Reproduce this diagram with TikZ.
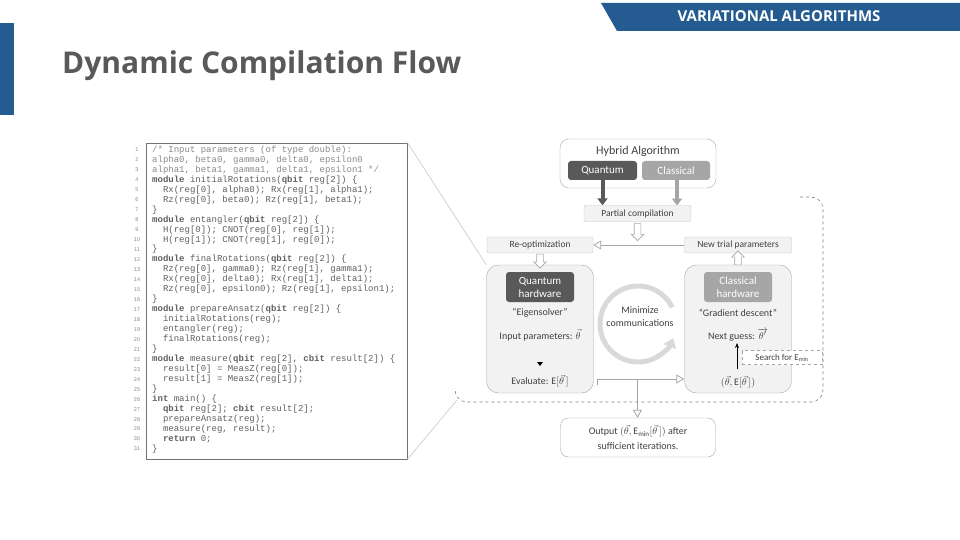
\documentclass[tikz,border=0pt]{standalone}
\usepackage{fontspec}
\setmainfont{Carlito}
\setmonofont{Liberation Mono}
\newfontfamily\osans{Open Sans}
\newfontfamily\lsans{Liberation Sans}
\usetikzlibrary{arrows.meta,shapes.arrows}
\definecolor{hdrblue}{HTML}{245C91}
\definecolor{titlegray}{HTML}{595959}
\definecolor{darkbox}{HTML}{595959}
\definecolor{lightbox}{HTML}{A6A6A6}
\definecolor{panelfill}{HTML}{F2F2F2}
\definecolor{panelline}{HTML}{A6A6A6}
\definecolor{smallline}{HTML}{C8C8C8}
\definecolor{txtgray}{HTML}{404040}
\definecolor{codegray}{HTML}{606060}
\definecolor{commentgray}{HTML}{8A8A8A}
\definecolor{ringgray}{HTML}{D9D9D9}
\newcommand\codeln[3]{%
  \node[lnum] (n#1) at (137,{-150-(#1-1)*9.967}) {#1};
  \node[codetxt] (c#1) at ({152+#2*5.4},{-150-(#1-1)*9.967}) {#3};}
\newcommand\kw[1]{\textbf{#1}}
\begin{document}
\begin{tikzpicture}[x=1pt,y=1pt,
  lnum/.style={font=\lsans\fontsize{5.5}{6}\selectfont, text=commentgray, inner sep=0pt},
  codetxt/.style={anchor=west, font=\ttfamily\fontsize{9}{9}\selectfont, text=codegray, inner sep=0pt},
  smallbox/.style={draw=smallline, fill=panelfill, rounded corners=2pt, minimum height=16pt, inner sep=1pt, font=\fontsize{9.5}{10}\selectfont, text=txtgray},
  bigpanel/.style={draw=panelline, fill=panelfill, rounded corners=12pt, minimum width=107pt, minimum height=128pt, inner sep=0pt},
  tagbox/.style={rounded corners=3pt, text=white, inner sep=0pt, align=center},
  paneltxt/.style={font=\fontsize{10}{12}\selectfont, text=txtgray, inner sep=0pt},
  blockarrow/.style={single arrow, draw=panelline, fill=white, line width=0.6pt, inner sep=3pt, single arrow head extend=3pt, minimum width=12pt},
  openarrow/.style={draw=lightbox, line width=0.8pt, -{Triangle[open, width=9pt, length=8pt]}}
]
\useasboundingbox (0,0) rectangle (960,-540);
\fill[white] (0,0) rectangle (960,-540);

% header
\fill[hdrblue] (601,-3) -- (960,-3) -- (960,-31) -- (617,-31) -- cycle;
\node[font=\osans\bfseries\fontsize{15}{16}\selectfont, text=white, inner sep=0pt] (hdr) at (779,-16) {VARIATIONAL ALGORITHMS};
\fill[hdrblue] (0,-23) rectangle (14,-115);
\node[anchor=west, font=\osans\bfseries\fontsize{30}{32}\selectfont, text=titlegray, inner sep=0pt] (title) at (62,-66) {Dynamic Compilation Flow};

% code box
\node[draw=black!55, line width=0.8pt, minimum width=261pt, minimum height=316pt, inner sep=0pt] (codebox) at (276.5,-301) {};
\codeln{1}{0}{\textcolor{commentgray}{/* Input parameters (of type double):}}
\codeln{2}{0}{\textcolor{commentgray}{alpha0, beta0, gamma0, delta0, epsilon0}}
\codeln{3}{0}{\textcolor{commentgray}{alpha1, beta1, gamma1, delta1, epsilon1 */}}
\codeln{4}{0}{\kw{module} initialRotations(\kw{qbit} reg[2]) \{}
\codeln{5}{2}{Rx(reg[0], alpha0); Rx(reg[1], alpha1);}
\codeln{6}{2}{Rz(reg[0], beta0); Rz(reg[1], beta1);}
\codeln{7}{0}{\}}
\codeln{8}{0}{\kw{module} entangler(\kw{qbit} reg[2]) \{}
\codeln{9}{2}{H(reg[0]); CNOT(reg[0], reg[1]);}
\codeln{10}{2}{H(reg[1]); CNOT(reg[1], reg[0]);}
\codeln{11}{0}{\}}
\codeln{12}{0}{\kw{module} finalRotations(\kw{qbit} reg[2]) \{}
\codeln{13}{2}{Rz(reg[0], gamma0); Rz(reg[1], gamma1);}
\codeln{14}{2}{Rx(reg[0], delta0); Rx(reg[1], delta1);}
\codeln{15}{2}{Rz(reg[0], epsilon0); Rz(reg[1], epsilon1);}
\codeln{16}{0}{\}}
\codeln{17}{0}{\kw{module} prepareAnsatz(\kw{qbit} reg[2]) \{}
\codeln{18}{2}{initialRotations(reg);}
\codeln{19}{2}{entangler(reg);}
\codeln{20}{2}{finalRotations(reg);}
\codeln{21}{0}{\}}
\codeln{22}{0}{\kw{module} measure(\kw{qbit} reg[2], \kw{cbit} result[2]) \{}
\codeln{23}{2}{result[0] = MeasZ(reg[0]);}
\codeln{24}{2}{result[1] = MeasZ(reg[1]);}
\codeln{25}{0}{\}}
\codeln{26}{0}{\kw{int} main() \{}
\codeln{27}{2}{\kw{qbit} reg[2]; \kw{cbit} result[2];}
\codeln{28}{2}{prepareAnsatz(reg);}
\codeln{29}{2}{measure(reg, result);}
\codeln{30}{2}{\kw{return} 0;}
\codeln{31}{0}{\}}

% hybrid algorithm box
\node[draw=panelline, fill=white, rounded corners=9pt, minimum width=156pt, minimum height=49pt, inner sep=0pt] (hyb) at (638,-163.5) {};
\node[font=\fontsize{12}{13}\selectfont, text=txtgray, inner sep=0pt] (hybt) at (638,-151) {Hybrid Algorithm};
\node[tagbox, fill=darkbox, minimum width=69pt, minimum height=19pt, font=\fontsize{11}{12}\selectfont] (qtag) at (602.5,-170.5) {Quantum};
\node[tagbox, fill=lightbox, minimum width=68pt, minimum height=19pt, font=\fontsize{11}{12}\selectfont] (ctag) at (676,-170.5) {Classical};

% partial compilation
\node[smallbox, minimum width=107pt] (pc) at (637.5,-213.5) {Partial compilation};
\draw[darkbox, line width=4pt, -{Triangle[width=10pt, length=7pt]}] (qtag.south) -- (qtag.south |- pc.north);
\draw[lightbox, line width=4pt, -{Triangle[width=10pt, length=7pt]}] (ctag.south -| 677,0) -- (677,-205.5);

% dashed region
\draw[black!50, dashed, line width=0.6pt, rounded corners=12pt] (800,-197) -- (823,-197) -- (823,-402) -- (455,-402) -- (455,-388);
\coordinate (dbl) at (457,-400);

% reopt / new trial
\node[smallbox, minimum width=106pt] (ro) at (540,-245) {Re-optimization};
\node[smallbox, minimum width=107pt] (nt) at (738,-245) {New trial parameters};
\node[blockarrow, minimum height=17pt, shape border rotate=270] (ba1) at (637.5,-230.5) {};
\draw[openarrow] (nt.west) -- (ro.east);

% panels
\node[bigpanel] (qbig) at (540,-329) {};
\node[bigpanel] (cbig) at (738,-329) {};
\node[blockarrow, minimum height=14pt, shape border rotate=270] (ba2) at (540,-259.5) {};
\node[blockarrow, minimum height=14pt, shape border rotate=90] (ba3) at (738,-259.5) {};

% quantum panel contents
\node[tagbox, fill=darkbox, minimum width=68pt, minimum height=30pt, font=\fontsize{11}{13}\selectfont] (qhw) at (540,-287) {Quantum\\hardware};
\node[paneltxt] (eig) at (540,-313) {“Eigensolver”};
\node[paneltxt] (inp) at (540,-335) {Input parameters: $\vec{\theta}$};
\fill[black] (537,-362) -- (543,-362) -- (540,-366) -- cycle;
\node[paneltxt] (evl) at (540,-381) {Evaluate: $\mathrm{E}[\vec{\theta}\,]$};

% classical panel contents
\node[tagbox, fill=lightbox, minimum width=68pt, minimum height=30pt, font=\fontsize{11}{13}\selectfont] (chw) at (738,-287) {Classical\\hardware};
\node[paneltxt] (grd) at (738,-313) {“Gradient descent”};
\node[paneltxt] (nxg) at (738,-335) {Next guess: $\overrightarrow{\theta'}$};
\node[paneltxt] (cpr) at (738,-382) {$(\vec{\theta}, \mathrm{E}[\vec{\theta}\,])$};
\draw[black, line width=0.6pt, -{Stealth[width=4pt, length=5pt]}] (737,-369) -- (737,-343);
\node[draw=lightbox, dashed, fill=white, minimum width=80pt, minimum height=14pt, inner sep=0pt, font=\fontsize{9}{10}\selectfont, text=txtgray] (srch) at (782,-357.5) {Search for $\mathrm{E}_{\min}$};

% minimize communications ring
\coordinate (cc) at (638,-324);
\draw[ringgray, line width=5pt, -{Triangle[width=13pt, length=9pt]}] ([shift={(26:38)}]cc) arc[start angle=26, end angle=338, radius=38];
\node[font=\fontsize{10}{13}\selectfont, text=txtgray, align=center, inner sep=0pt] (minc) at (640,-317) {Minimize\\communications};

% quantum -> classical
\coordinate (qa) at (597,-379);
\draw[lightbox, line width=0.8pt] (597,-385) -- (qa);
\draw[openarrow] (qa) -- (qa -| cbig.west);

% output
\node[draw=panelline, fill=white, rounded corners=8pt, minimum width=155pt, minimum height=39pt, inner sep=0pt, font=\fontsize{10}{15}\selectfont, text=txtgray, align=center] (out) at (638,-437.5) {Output $(\vec{\theta}, \mathrm{E}_{\min}[\vec{\theta}\,])$ after\\sufficient iterations.};
\coordinate (oa) at (637.5,-379);
\draw[openarrow] (oa) -- (oa |- out.north);

% zoom lines from code box
\draw[smallline, line width=0.6pt] (codebox.north east) -- (qbig.north west);
\draw[smallline, line width=0.6pt] (codebox.south east) -- (dbl);
\end{tikzpicture}
\end{document}
